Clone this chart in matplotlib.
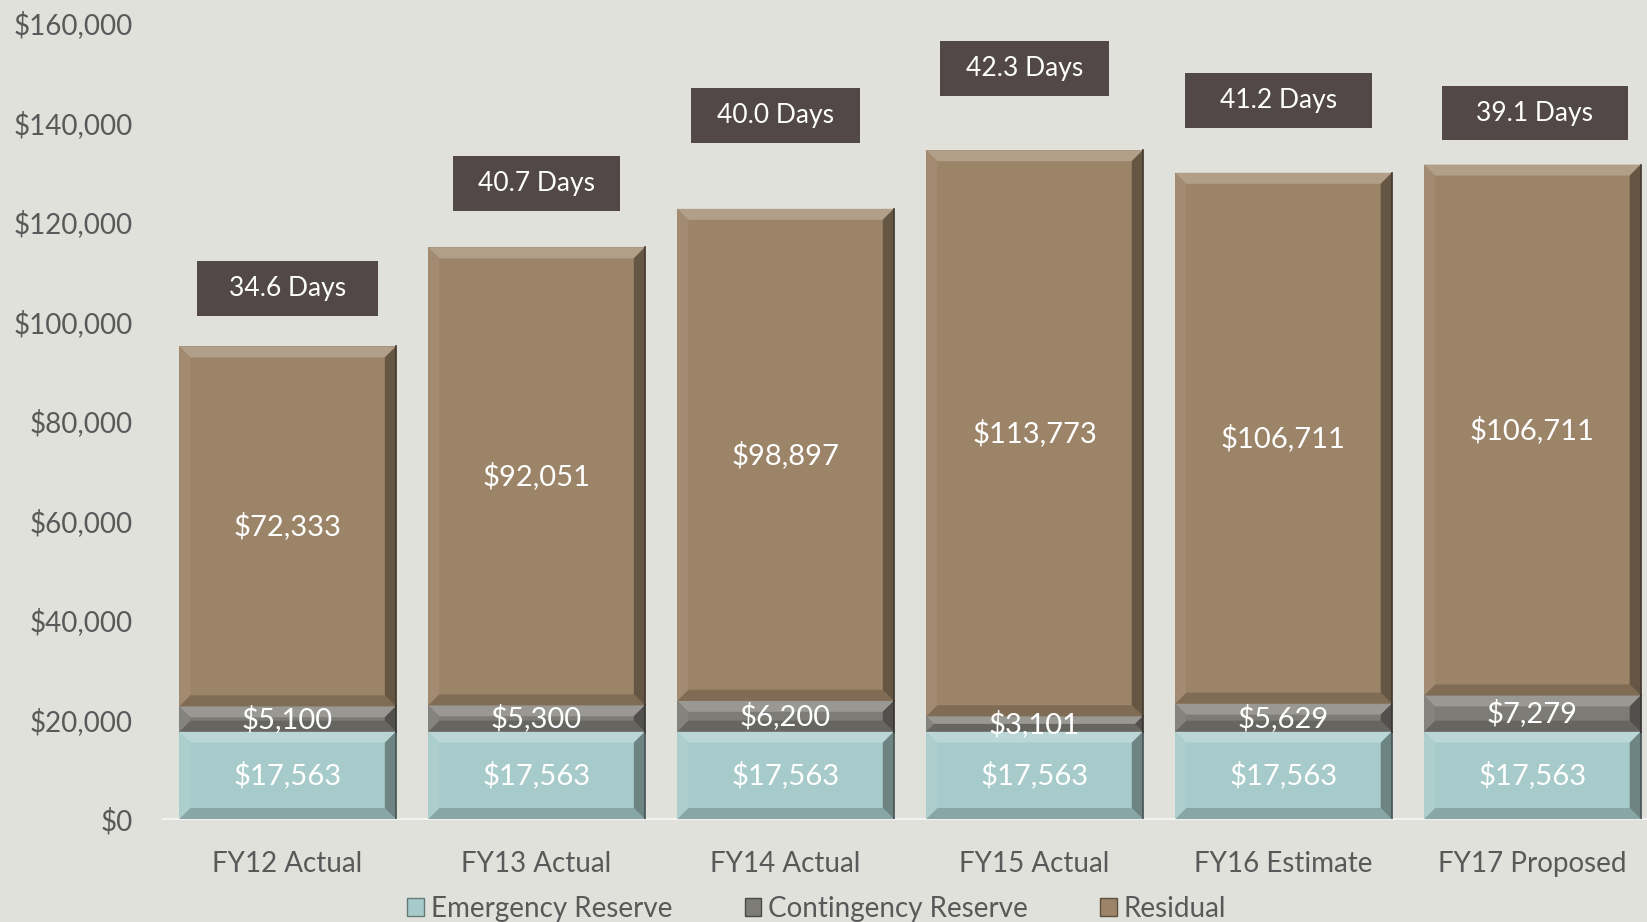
import numpy as np
import matplotlib
matplotlib.use("Agg")
import matplotlib.pyplot as plt
from matplotlib.patches import Polygon, Patch
from matplotlib.colors import to_rgb

plt.rcParams['font.family'] = ['Lato', 'DejaVu Sans']

# data
years = ["FY12 Actual", "FY13 Actual", "FY14 Actual", "FY15 Actual", "FY16 Estimate", "FY17 Proposed"]
emergency = [17563, 17563, 17563, 17563, 17563, 17563]
contingency = [5100, 5300, 6200, 3101, 5629, 7279]
residual = [72333, 92051, 98897, 113773, 106711, 106711]
days = [34.6, 40.7, 40.0, 42.3, 41.2, 39.1]

# where the "Days" boxes sit (centre, data units)
days_box_y = [106700, 127700, 141400, 150800, 144500, 141900]
days_box_dx = [0.0, 0.0, -0.04, -0.04, -0.02, 0.01]
days_box_w = [0.73, 0.67, 0.68, 0.68, 0.75, 0.75]

bg = "#E0E1DB"
c_emerg = "#A7CBCA"
c_cont = "#7C7B75"
c_resid = "#9C8468"
txt_grey = "#595959"


def mix(c, other, t):
    c = np.array(to_rgb(c))
    o = np.array(to_rgb(other))
    return tuple(c * (1 - t) + o * t)


def bevel(ax, rect, color, px_x, px_y):
    # soft bevelled edge like the office chart
    x0, y0 = rect.get_x(), rect.get_y()
    w, h = rect.get_width(), rect.get_height()
    x1, y1 = x0 + w, y0 + h
    b = min(11, h / px_y / 2)
    bx, by = b * px_x, b * px_y
    parts = [
        ([(x0, y1), (x1, y1), (x1 - bx, y1 - by), (x0 + bx, y1 - by)], mix(color, "white", 0.22)),
        ([(x0, y0), (x1, y0), (x1 - bx, y0 + by), (x0 + bx, y0 + by)], mix(color, "black", 0.18)),
        ([(x0, y0), (x0, y1), (x0 + bx, y1 - by), (x0 + bx, y0 + by)], mix(color, "white", 0.06)),
        ([(x1, y0), (x1, y1), (x1 - bx, y1 - by), (x1 - bx, y0 + by)], mix(color, "black", 0.35)),
    ]
    for pts, fc in parts:
        ax.add_patch(Polygon(pts, closed=True, facecolor=fc, edgecolor="none", zorder=3))
    # thin dark outline on the far right
    ax.plot([x1, x1], [y0, y1], color=mix(color, "black", 0.6), lw=1.2, zorder=3)


fig = plt.figure(figsize=(16.47, 9.22), dpi=100, facecolor=bg)
ax = fig.add_axes([0.099, 0.1117, 0.907, 0.8633])
ax.set_facecolor(bg)

x = np.arange(len(years))
emergency = np.array(emergency)
contingency = np.array(contingency)
residual = np.array(residual)

bw = 0.87
b1 = ax.bar(x, emergency, bw, color=c_emerg, zorder=2)
b2 = ax.bar(x, contingency, bw, bottom=emergency, color=c_cont, zorder=2)
b3 = ax.bar(x, residual, bw, bottom=emergency + contingency, color=c_resid, zorder=2)

ax.set_xlim(-0.5, 5.5)
ax.set_ylim(0, 160000)

# size of one pixel in data units
px_x = 6 / (0.907 * 1647)
px_y = 160000 / (0.8633 * 922)

for bars, col in [(b1, c_emerg), (b2, c_cont), (b3, c_resid)]:
    for r in bars:
        bevel(ax, r, col, px_x, px_y)
    ax.bar_label(bars, labels=[f"${v:,.0f}" for v in bars.datavalues],
                 label_type="center", color="white", fontsize=21, zorder=5)

for i, d in enumerate(days):
    cx = x[i] + days_box_dx[i]
    w = days_box_w[i]
    hh = 11000
    ax.add_patch(plt.Rectangle((cx - w / 2, days_box_y[i] - hh / 2), w, hh,
                               facecolor="#524848", edgecolor="none", zorder=4))
    ax.text(cx, days_box_y[i], f"{d:.1f} Days", ha="center", va="center",
            color="white", fontsize=19, zorder=5)

ax.set_yticks(np.arange(0, 160001, 20000))
ax.set_yticklabels([f"${v:,.0f}" for v in np.arange(0, 160001, 20000)])
ax.set_xticks(x)
ax.set_xticklabels(years)
ax.tick_params(axis="y", length=0, pad=22, labelsize=20, labelcolor=txt_grey)
ax.tick_params(axis="x", length=0, pad=23, labelsize=20, labelcolor=txt_grey)
for s in ["top", "right", "left"]:
    ax.spines[s].set_visible(False)
ax.spines["bottom"].set_color("#F2F2F2")
ax.spines["bottom"].set_linewidth(1.5)

handles = [Patch(facecolor=c_emerg, edgecolor=mix(c_emerg, "black", 0.4), label="Emergency Reserve"),
           Patch(facecolor=c_cont, edgecolor=mix(c_cont, "black", 0.4), label="Contingency Reserve"),
           Patch(facecolor=c_resid, edgecolor=mix(c_resid, "black", 0.4), label="Residual")]
leg = fig.legend(handles=handles, loc="center", bbox_to_anchor=(0.496, 0.014), ncol=3,
                 frameon=False, fontsize=20, handlelength=0.6, handleheight=0.6,
                 handletextpad=0.25, columnspacing=2.6)
for t in leg.get_texts():
    t.set_color(txt_grey)

fig.savefig("out.png", dpi=100, facecolor=bg)
